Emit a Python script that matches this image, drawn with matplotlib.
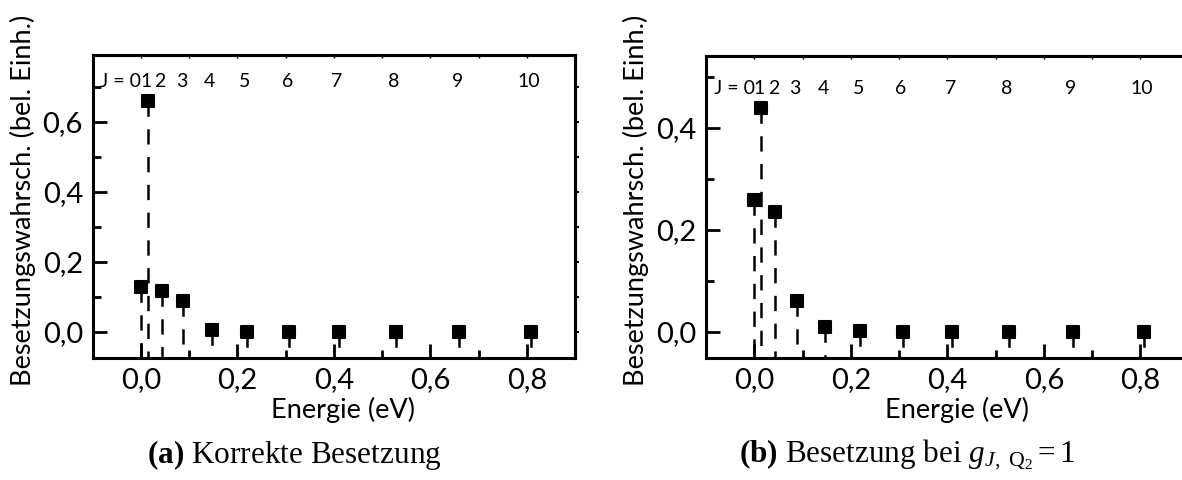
import matplotlib

matplotlib.use("Agg")
import matplotlib.pyplot as plt  # noqa: E402
from matplotlib.markers import MarkerStyle  # noqa: E402
from matplotlib.ticker import FuncFormatter, MultipleLocator  # noqa: E402

# rotational levels J = 0..10 and their energies (eV)
j_levels = list(range(11))
energies = [0.0, 0.015, 0.044, 0.088, 0.147, 0.22, 0.308, 0.41, 0.528, 0.66, 0.808]

# population per level: (a) correct weighting, (b) with g_J = 1
pop_correct = [0.129, 0.659, 0.116, 0.089, 0.004, 0.0005, 0.0, 0.0, 0.0, 0.0, 0.0]
pop_g1 = [0.259, 0.439, 0.235, 0.06, 0.009, 0.0013, 0.0, 0.0, 0.0, 0.0, 0.0]

plt.rcParams["font.family"] = ["Lato", "DejaVu Sans"]
plt.rcParams["lines.scale_dashes"] = False
plt.rcParams["mathtext.fontset"] = "custom"
plt.rcParams["mathtext.rm"] = "Liberation Serif"
plt.rcParams["mathtext.it"] = "Liberation Serif:italic"
plt.rcParams["mathtext.bf"] = "Liberation Serif:bold"
plt.rcParams["axes.linewidth"] = 2.2


def comma_fmt(v, _pos):
    return f"{v:.1f}".replace(".", ",").replace("-", "\u2212")


def draw_panel(ax, pops, ylim, label_y):
    ax.set_xlim(-0.1, 0.9)
    ax.set_ylim(*ylim)

    # drop lines start at the marker so the dash pattern begins there
    for e, p in zip(energies, pops):
        ax.plot([e, e], [p, ylim[0]], color="black", lw=1.8,
                dashes=(11, 9), dash_capstyle="butt", zorder=2)
    ax.plot(energies, pops, ls="none",
            marker=MarkerStyle("s", joinstyle="round"), ms=8.5,
            mfc="black", mec="black", mew=1.5, zorder=3)

    # level annotations along the top
    ax.text(energies[0] + 0.001, label_y, "J = 0", ha="right", va="center",
            fontsize=14)
    for j, e in zip(j_levels[1:], energies[1:]):
        ax.text(e - 0.004, label_y, str(j), ha="center", va="center",
                fontsize=14)

    for axis in (ax.xaxis, ax.yaxis):
        axis.set_major_locator(MultipleLocator(0.2))
        axis.set_minor_locator(MultipleLocator(0.1))
        axis.set_major_formatter(FuncFormatter(comma_fmt))
    ax.tick_params(which="both", direction="in", width=2.0,
                   top=False, right=False)
    ax.tick_params(which="major", length=10, labelsize=21, pad=7)
    ax.tick_params(which="minor", length=6)

    right = ax.secondary_yaxis("right")
    right.yaxis.set_major_locator(MultipleLocator(0.1))
    right.tick_params(direction="out", length=3, width=1.5, labelright=False)
    right.spines["right"].set_linewidth(2.2)
    top = ax.secondary_xaxis("top")
    top.xaxis.set_major_locator(MultipleLocator(0.1))
    top.tick_params(direction="in", length=2, width=1, labeltop=False)
    top.spines["top"].set_linewidth(2.2)

    ax.set_xlabel("Energie (eV)", fontsize=19.5)
    ax.set_ylabel("Besetzungswahrsch. (bel. Einh.)", fontsize=19.5)
    ax.xaxis.set_label_coords(0.52, -0.13)
    ax.yaxis.set_label_coords(-0.118, 0.52)


W, H = 1182, 480
fig = plt.figure(figsize=(W / 100, H / 100), dpi=100)
ax_a = fig.add_axes([92.7 / W, 1 - 357.7 / H, 482.3 / W, 302.4 / H])
ax_b = fig.add_axes([706 / W, 1 - 357.7 / H, 482.6 / W, 302.0 / H])

draw_panel(ax_a, pop_correct, (-0.0743, 0.79), 0.714)
draw_panel(ax_b, pop_g1, (-0.051, 0.541), 0.477)

fig.text(294 / W, 1 - 455 / H, r"$\mathbf{(a)}$ Korrekte Besetzung",
         ha="center", va="center", fontsize=22.5, family="Liberation Serif")
fig.text(907 / W, 1 - 455 / H,
         r"$\mathbf{(b)}$ Besetzung bei $g_{J,\ \mathrm{Q}_2} = 1$",
         ha="center", va="center", fontsize=22.5, family="Liberation Serif")

fig.savefig("out.png", dpi=100)
plt.close(fig)
